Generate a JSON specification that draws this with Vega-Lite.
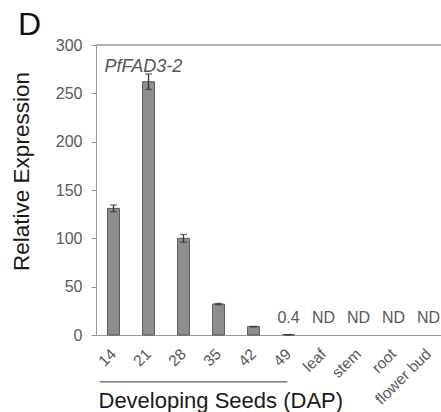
{
  "$schema": "https://vega.github.io/schema/vega-lite/v6.json",
  "width": 350,
  "height": 290,
  "autosize": {"type": "none"},
  "padding": {"left": 96, "top": 45, "right": 0, "bottom": 77},
  "background": "white",
  "title": {
    "text": "D",
    "anchor": "start",
    "frame": "group",
    "orient": "top",
    "fontSize": 32,
    "font": "Liberation Sans",
    "fontWeight": "normal",
    "color": "#111",
    "baseline": "alphabetic",
    "offset": 8,
    "dx": -78,
    "dy": 38
  },
  "data": {
    "values": [
      {"cat": "14", "value": 131, "lo": 127.5, "hi": 134.5, "label": ""},
      {"cat": "21", "value": 262, "lo": 254, "hi": 270, "label": ""},
      {"cat": "28", "value": 100, "lo": 96, "hi": 104, "label": ""},
      {"cat": "35", "value": 32, "lo": 31.3, "hi": 32.7, "label": ""},
      {"cat": "42", "value": 8.7, "lo": 8.5, "hi": 8.9, "label": ""},
      {"cat": "49", "value": 0.4, "lo": 0.35, "hi": 0.45, "label": "0.4"},
      {"cat": "leaf", "value": null, "lo": null, "hi": null, "label": "ND"},
      {"cat": "stem", "value": null, "lo": null, "hi": null, "label": "ND"},
      {"cat": "root", "value": null, "lo": null, "hi": null, "label": "ND"},
      {"cat": "flower bud", "value": null, "lo": null, "hi": null, "label": "ND"}
    ]
  },
  "encoding": {
    "x": {
      "field": "cat",
      "type": "nominal",
      "sort": null,
      "scale": {
        "domain": ["14", "21", "28", "35", "42", "49", "leaf", "stem", "root", "flower bud"],
        "paddingInner": 0.66,
        "paddingOuter": 0.33
      },
      "axis": {
        "title": "Developing Seeds (DAP)",
        "titleFont": "Liberation Sans",
        "titleFontSize": 22,
        "titleFontWeight": "normal",
        "titleColor": "#1a1a1a",
        "titleAnchor": "start",
        "titleAlign": "left",
        "titleBaseline": "alphabetic",
        "titleX": 2,
        "titleY": 72,
        "labelAngle": -45,
        "labelAlign": "right",
        "labelBaseline": "middle",
        "labelPadding": 16,
        "labelFont": "Liberation Sans",
        "labelFontSize": 15.5,
        "labelColor": "#595959",
        "ticks": false,
        "domainColor": "#999999",
        "domainWidth": 1.2,
        "grid": false
      }
    }
  },
  "layer": [
    {
      "mark": {"type": "rule", "color": "#b0b0b0", "strokeWidth": 1.5},
      "encoding": {"y": {"datum": 300, "type": "quantitative"}, "x": null}
    },
    {
      "mark": {"type": "bar", "color": "#8e8e8e", "stroke": "#5a5a5a", "strokeWidth": 1},
      "encoding": {
        "y": {
          "field": "value",
          "type": "quantitative",
          "scale": {"domain": [0, 300], "nice": false},
          "axis": {
            "title": "Relative Expression",
            "titleFont": "Liberation Sans",
            "titleFontSize": 22.5,
            "titleFontWeight": "normal",
            "titleColor": "#1a1a1a",
            "titleAlign": "center",
            "titleX": -63,
            "titleY": 126,
            "values": [0, 50, 100, 150, 200, 250, 300],
            "labelFont": "Liberation Sans",
            "labelFontSize": 16,
            "labelColor": "#595959",
            "labelPadding": 9,
            "tickColor": "#999999",
            "tickSize": 5,
            "domainColor": "#999999",
            "gridColor": "#ebebeb",
            "gridWidth": 1.2
          }
        }
      }
    },
    {
      "mark": {"type": "rule", "color": "#333333", "strokeWidth": 1.3},
      "encoding": {
        "y": {"field": "lo", "type": "quantitative"},
        "y2": {"field": "hi"}
      }
    },
    {
      "mark": {"type": "tick", "color": "#333333", "size": 7, "thickness": 1.3, "orient": "horizontal"},
      "encoding": {"y": {"field": "lo", "type": "quantitative"}}
    },
    {
      "mark": {"type": "tick", "color": "#333333", "size": 7, "thickness": 1.3, "orient": "horizontal"},
      "encoding": {"y": {"field": "hi", "type": "quantitative"}}
    },
    {
      "mark": {"type": "text", "font": "Liberation Sans", "fontSize": 16, "color": "#595959", "baseline": "alphabetic", "dy": -12},
      "encoding": {
        "y": {"datum": 0, "type": "quantitative"},
        "text": {"field": "label"}
      }
    },
    {
      "data": {"values": [{"g": "PfFAD3-2", "c": "14"}]},
      "mark": {"type": "text", "font": "Liberation Sans", "fontSize": 18, "fontStyle": "italic", "color": "#555555", "align": "left", "baseline": "alphabetic", "dx": -3},
      "encoding": {
        "x": {"field": "c", "type": "nominal", "bandPosition": 0},
        "y": {"datum": 272, "type": "quantitative"},
        "text": {"field": "g"}
      }
    },
    {
      "data": {"values": [{"a": "14", "b": "49"}]},
      "mark": {"type": "rule", "color": "#333333", "strokeWidth": 1},
      "encoding": {
        "x": {"field": "a", "type": "nominal", "bandPosition": -0.65},
        "x2": {"field": "b", "bandPosition": 0.4},
        "y": {"datum": -48.5, "type": "quantitative"}
      }
    }
  ]
}
